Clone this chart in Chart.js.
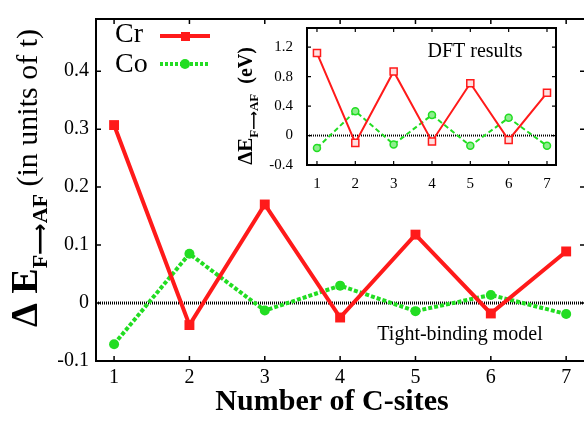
<!DOCTYPE html>
<html><head><meta charset="utf-8">
<script src="https://cdn.jsdelivr.net/npm/chart.js@4"></script>
<style>
html,body{margin:0;padding:0;background:#fff;overflow:hidden;width:584px;height:424px;}
#wrap{position:relative;width:584px;height:424px;overflow:hidden;background:#fff;}
canvas{position:absolute;left:0;top:0;}
</style></head><body>
<div id="wrap"><canvas id="main" width="592" height="424"></canvas><canvas id="inset" width="592" height="424"></canvas></div>
<script>
// ---- data ----
const sites = [1, 2, 3, 4, 5, 6, 7];
const crTB  = [0.307, -0.038, 0.170, -0.025, 0.118, -0.018, 0.089];
const coTB  = [-0.071, 0.085, -0.013, 0.030, -0.014, 0.014, -0.019];
const crDFT = [1.12, -0.10, 0.87, -0.08, 0.71, -0.06, 0.58];
const coDFT = [-0.17, 0.33, -0.12, 0.28, -0.14, 0.24, -0.14];
const mainYTicks  = [-0.1, 0, 0.1, 0.2, 0.3, 0.4];
const insetYTicks = [-0.4, 0, 0.4, 0.8, 1.2];
const seriesNames = ['Cr', 'Co'];

const RED = '#ff1a1a', GREEN = '#22dd22';
const SERIF = '"Liberation Serif", "Times New Roman", serif';
const ARROWF = '"Liberation Serif", "DejaVu Sans", serif';
const pts = arr => arr.map((v, i) => ({x: sites[i], y: v}));
const fmt = v => String(Number(v.toFixed(2)));

function drawRotated(ctx, cx, cy, parts) {
  ctx.save(); ctx.translate(cx, cy); ctx.rotate(-Math.PI / 2);
  let total = 0;
  parts.forEach(p => { ctx.font = p.font; p.w = ctx.measureText(p.text).width; total += p.w; });
  let x = -total / 2; ctx.fillStyle = '#000'; ctx.textAlign = 'left'; ctx.textBaseline = 'alphabetic';
  parts.forEach(p => { ctx.font = p.font; ctx.fillText(p.text, x, p.dy || 0); x += p.w; });
  ctx.restore();
}

function framePlugin(o) {
  return {
    id: o.id,
    beforeDatasetsDraw(chart) {
      const {ctx, chartArea: a, scales: {y}} = chart;
      const py = y.getPixelForValue(0);
      ctx.save(); ctx.strokeStyle = '#000'; ctx.lineWidth = o.zeroW; ctx.setLineDash(o.zeroDash);
      ctx.beginPath(); ctx.moveTo(a.left, py); ctx.lineTo(a.right, py); ctx.stroke(); ctx.restore();
    },
    afterDatasetsDraw(chart) {
      const {ctx, chartArea: a, scales: {x, y}} = chart;
      ctx.save(); ctx.strokeStyle = '#000'; ctx.setLineDash([]);
      ctx.lineWidth = o.tickW; ctx.beginPath();
      x.ticks.forEach(t => { const px = x.getPixelForValue(t.value);
        ctx.moveTo(px, a.bottom); ctx.lineTo(px, a.bottom - o.tickLen);
        ctx.moveTo(px, a.top); ctx.lineTo(px, a.top + o.tickLen); });
      y.ticks.forEach(t => { const py = y.getPixelForValue(t.value);
        ctx.moveTo(a.left, py); ctx.lineTo(a.left + o.tickLen, py);
        ctx.moveTo(a.right, py); ctx.lineTo(a.right - o.tickLen, py); });
      ctx.stroke();
      ctx.lineWidth = o.frameW;
      ctx.strokeRect(a.left, a.top, a.right - a.left, a.bottom - a.top);
      ctx.restore();
      if (o.extra) o.extra(chart);
    }
  };
}

function scaleX(min, max, size, pad, h) {
  return {type: 'linear', min, max,
    afterBuildTicks: s => { s.ticks = sites.map(v => ({value: v})); },
    grid: {display: false, drawTicks: false}, border: {display: false},
    ticks: {font: {family: SERIF, size}, color: '#000', padding: pad, maxRotation: 0, autoSkip: false, callback: fmt},
    afterFit: s => { s.height = h; }};
}
function scaleY(min, max, list, size, pad, w) {
  return {type: 'linear', min, max,
    afterBuildTicks: s => { s.ticks = list.map(v => ({value: v})); },
    grid: {display: false, drawTicks: false}, border: {display: false},
    ticks: {font: {family: SERIF, size}, color: '#000', padding: pad, autoSkip: false, callback: fmt},
    afterFit: s => { s.width = w; }};
}

// ---- main chart ----
new Chart(document.getElementById('main'), {
  type: 'line',
  data: {datasets: [
    {label: seriesNames[0], data: pts(crTB), borderColor: RED, backgroundColor: RED, borderWidth: 4,
     pointStyle: 'rect', pointRadius: 7, pointBorderWidth: 0, pointBackgroundColor: RED, tension: 0},
    {label: seriesNames[1], data: pts(coTB), borderColor: GREEN, backgroundColor: GREEN, borderWidth: 4,
     borderDash: [4, 2], pointStyle: 'circle', pointRadius: 5, pointBorderWidth: 0, pointBackgroundColor: GREEN, tension: 0}
  ]},
  options: {
    responsive: false, animation: false, devicePixelRatio: 1,
    layout: {padding: {left: 0, top: 6, right: 6, bottom: 0}},
    plugins: {legend: {display: false}, tooltip: {enabled: false}},
    scales: {x: scaleX(0.76, 7.25, 20, 5, 63), y: scaleY(-0.1, 0.49, mainYTicks, 20, 7, 96)}
  },
  plugins: [framePlugin({id: 'mainFrame', zeroW: 3, zeroDash: [1, 1], tickW: 1.5, tickLen: 5, frameW: 2,
    extra(chart) {
      const ctx = chart.ctx; const ds = chart.data.datasets;
      ctx.save(); ctx.fillStyle = '#000';
      // legend
      ctx.font = '28px ' + SERIF; ctx.textAlign = 'left'; ctx.textBaseline = 'alphabetic';
      ctx.fillText(ds[0].label, 115, 42); ctx.fillText(ds[1].label, 115, 72);
      ctx.strokeStyle = ds[0].borderColor; ctx.lineWidth = 4; ctx.setLineDash([]);
      ctx.beginPath(); ctx.moveTo(160, 36); ctx.lineTo(210, 36); ctx.stroke();
      ctx.fillStyle = ds[0].borderColor; ctx.fillRect(181, 32, 9, 9);
      ctx.strokeStyle = ds[1].borderColor; ctx.setLineDash([3, 2]);
      ctx.beginPath(); ctx.moveTo(160, 64); ctx.lineTo(210, 64); ctx.stroke(); ctx.setLineDash([]);
      ctx.fillStyle = ds[1].borderColor; ctx.beginPath(); ctx.arc(185, 64, 5, 0, Math.PI * 2); ctx.fill();
      // annotation
      ctx.fillStyle = '#000'; ctx.font = '20px ' + SERIF; ctx.textAlign = 'center';
      ctx.fillText('Tight-binding model', 460, 340);
      // x title
      ctx.font = 'bold 30px ' + SERIF; ctx.fillText('Number of C-sites', 332, 410);
      ctx.restore();
      drawRotated(ctx, 37, 178, [
        {text: 'Δ E', font: 'bold 38px ' + SERIF},
        {text: 'F⟶AF', font: 'bold 22px ' + ARROWF, dy: 10},
        {text: ' (in units of t)', font: '30px ' + SERIF}
      ]);
    }})]
});

// ---- inset chart ----
new Chart(document.getElementById('inset'), {
  type: 'line',
  data: {datasets: [
    {label: seriesNames[0], data: pts(crDFT), borderColor: RED, borderWidth: 2, pointStyle: 'rect', pointRadius: 5,
     pointBorderWidth: 1.5, pointBorderColor: RED, pointBackgroundColor: '#ffe0e0', tension: 0},
    {label: seriesNames[1], data: pts(coDFT), borderColor: GREEN, borderWidth: 2, borderDash: [5, 3], pointStyle: 'circle',
     pointRadius: 3.5, pointBorderWidth: 1.5, pointBorderColor: GREEN, pointBackgroundColor: '#8eee8e', tension: 0}
  ]},
  options: {
    responsive: false, animation: false, devicePixelRatio: 1,
    layout: {padding: {left: 247, top: 28, right: 36, bottom: 229}},
    plugins: {legend: {display: false}, tooltip: {enabled: false}},
    scales: {x: scaleX(0.74, 7.235, 15, 10, 30), y: scaleY(-0.4, 1.46, insetYTicks, 15, 14, 60)}
  },
  plugins: [framePlugin({id: 'insetFrame', zeroW: 2, zeroDash: [1, 1], tickW: 1.2, tickLen: 4, frameW: 2,
    extra(chart) {
      const ctx = chart.ctx;
      ctx.save(); ctx.fillStyle = '#000'; ctx.font = '20px ' + SERIF; ctx.textAlign = 'center'; ctx.textBaseline = 'alphabetic';
      ctx.fillText('DFT results', 475, 57); ctx.restore();
      drawRotated(ctx, 252, 106, [
        {text: 'ΔE', font: 'bold 21px ' + SERIF},
        {text: 'F⟶AF', font: 'bold 13px ' + ARROWF, dy: 6},
        {text: '  (eV)', font: 'bold 20px ' + SERIF}
      ]);
    }})]
});
</script>
</body></html>
